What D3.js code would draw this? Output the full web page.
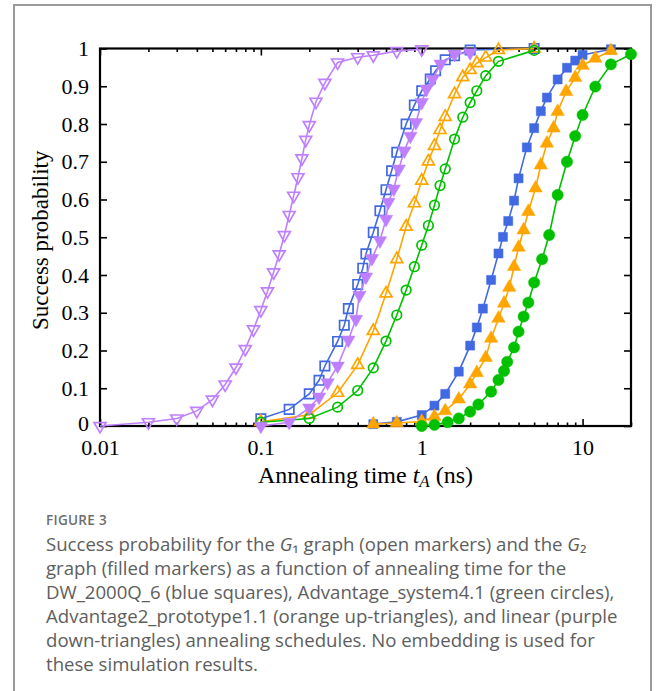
<!DOCTYPE html>
<html>
<head>
<meta charset="utf-8">
<script src="https://cdn.jsdelivr.net/npm/d3@7"></script>
<style>
  html, body { margin: 0; padding: 0; background: #fff; }
  svg { display: block; }
</style>
</head>
<body>
<svg id="chart" width="659" height="691"></svg>
<script>
// ---------- data ----------
// G1 graph (open markers)
const tBlueOpen   = [0.1,0.15,0.2,0.23,0.25,0.3,0.33,0.35,0.4,0.43,0.45,0.5,0.55,0.6,0.65,0.7,0.8,0.9,1.0,1.13,1.22,1.4,1.6,2.0,5.0];
const pBlueOpen   = [0.019,0.044,0.085,0.121,0.159,0.224,0.267,0.311,0.375,0.418,0.456,0.513,0.570,0.626,0.676,0.725,0.80,0.85,0.888,0.919,0.941,0.970,0.981,0.996,1.0];

const tGreenOpen  = [0.1,0.2,0.3,0.4,0.5,0.6,0.7,0.8,0.9,1.0,1.1,1.2,1.3,1.4,1.6,1.8,2.0,2.2,2.5,3.0,5.0];
const pGreenOpen  = [0.01,0.02,0.05,0.094,0.154,0.225,0.294,0.36,0.422,0.479,0.531,0.585,0.637,0.681,0.760,0.818,0.857,0.888,0.928,0.966,0.995];

const tOrangeOpen = [0.1,0.2,0.3,0.4,0.5,0.6,0.7,0.8,0.9,1.0,1.1,1.2,1.3,1.4,1.6,1.8,2.0,2.2,2.5,3.0,5.0];
const pOrangeOpen = [0.011,0.03,0.088,0.162,0.252,0.351,0.442,0.528,0.590,0.650,0.701,0.742,0.784,0.819,0.879,0.924,0.943,0.961,0.976,0.996,1.0];

const tPurpleOpen = [0.01,0.02,0.03,0.04,0.05,0.06,0.07,0.08,0.09,0.1,0.11,0.12,0.13,0.14,0.15,0.16,0.17,0.18,0.19,0.2,0.22,0.25,0.3,0.4,0.5,0.7,1.0];
const pPurpleOpen = [0.0,0.01,0.02,0.04,0.07,0.11,0.155,0.204,0.256,0.307,0.357,0.407,0.455,0.506,0.559,0.61,0.659,0.709,0.758,0.797,0.859,0.909,0.963,0.977,0.982,0.993,0.998];

// G2 graph (filled markers)
const tBlueFilled   = [0.5,0.7,1.0,1.2,1.4,1.7,2.0,2.2,2.4,2.7,3.0,3.2,3.45,3.75,4.0,4.5,5.0,5.5,6.0,7.0,8.0,9.0,10.0,15.0];
const pBlueFilled   = [0.005,0.011,0.029,0.054,0.085,0.144,0.213,0.261,0.311,0.387,0.457,0.501,0.543,0.597,0.656,0.738,0.789,0.834,0.870,0.918,0.949,0.968,0.983,0.998];

const tGreenFilled  = [1.0,1.2,1.45,1.7,2.0,2.25,2.7,3.0,3.25,3.4,3.75,4.0,4.3,4.6,5.0,5.6,6.2,7.0,8.0,9.0,10.0,12.0,15.0,20.0];
const pGreenFilled  = [0.0,0.003,0.01,0.02,0.038,0.057,0.091,0.122,0.146,0.170,0.208,0.250,0.29,0.327,0.380,0.442,0.506,0.612,0.700,0.768,0.824,0.899,0.958,0.985];

const tOrangeFilled = [0.5,0.7,1.0,1.2,1.4,1.7,2.0,2.2,2.5,2.7,3.0,3.25,3.5,3.75,4.0,4.3,4.6,5.1,5.5,6.0,6.6,7.0,7.9,9.0,10.0,12.0,15.0];
const pOrangeFilled = [0.005,0.008,0.012,0.025,0.04,0.071,0.111,0.141,0.181,0.232,0.285,0.325,0.367,0.422,0.473,0.519,0.568,0.630,0.691,0.749,0.789,0.833,0.886,0.923,0.955,0.974,0.994];

const tPurpleFilled = [0.1,0.15,0.2,0.23,0.26,0.3,0.35,0.39,0.41,0.45,0.49,0.55,0.6,0.62,0.67,0.72,0.78,0.85,0.92,1.0,1.07,1.17,1.31,1.6,2.0];
const pPurpleFilled = [0,0.01,0.048,0.077,0.115,0.159,0.228,0.283,0.347,0.395,0.444,0.491,0.548,0.593,0.628,0.681,0.729,0.768,0.804,0.857,0.893,0.919,0.959,0.985,0.989];

const xTickValues = [0.01, 0.1, 1, 10];
const xTickLabels = ["0.01", "0.1", "1", "10"];
const yTickValues = [0,0.1,0.2,0.3,0.4,0.5,0.6,0.7,0.8,0.9,1];
const yTickLabels = ["0","0.1","0.2","0.3","0.4","0.5","0.6","0.7","0.8","0.9","1"];

const captionTitle = "FIGURE 3";

// ---------- layout ----------
const svg = d3.select("#chart");
const L = 100, R = 631, T = 48.5, B = 426;
const x = d3.scaleLog().domain([0.01, 20]).range([L, R]);
const y = d3.scaleLinear().domain([0, 1]).range([B, T]);

const BLUE = "#4169E1", GREEN = "#00C000", ORANGE = "#FFA500", PURPLE = "#BF80FF";
const serif = "'Liberation Serif', 'Times New Roman', serif";

// outer frame
svg.append("path")
  .attr("d", "M14,700 L14,5 L651,5 L651,700")
  .attr("fill", "none").attr("stroke", "#9a9a9a").attr("stroke-width", 2);

// ---------- axes ----------
const minorX = [];
for (let e = -2; e <= 1; e++) for (let m = 2; m <= 9; m++) { const v = m * Math.pow(10, e); if (v <= 20) minorX.push(v); }

function styleAxis(g) {
  g.select(".domain").remove();
  g.selectAll(".tick line").attr("stroke", "#000").attr("stroke-width", 1.6);
}
svg.append("g").attr("transform", `translate(0,${B})`)
  .call(d3.axisBottom(x).tickValues(minorX).tickSize(-3.5).tickFormat(""))
  .call(styleAxis);
svg.append("g").attr("transform", `translate(0,${T})`)
  .call(d3.axisTop(x).tickValues(minorX).tickSize(-3.5).tickFormat(""))
  .call(styleAxis);
svg.append("g").attr("transform", `translate(0,${T})`)
  .call(d3.axisTop(x).tickValues(xTickValues).tickSize(-7).tickFormat(""))
  .call(styleAxis);
const xAxisG = svg.append("g").attr("transform", `translate(0,${B})`)
  .call(d3.axisBottom(x).tickValues(xTickValues).tickSize(-7).tickPadding(13)
    .tickFormat((d, i) => xTickLabels[i]))
  .call(styleAxis);
xAxisG.selectAll("text").attr("font-family", serif).attr("font-size", 22).attr("fill", "#000");

const yAxisG = svg.append("g").attr("transform", `translate(${L},0)`)
  .call(d3.axisLeft(y).tickValues(yTickValues).tickSize(-7).tickPadding(11)
    .tickFormat((d, i) => yTickLabels[i]))
  .call(styleAxis);
yAxisG.selectAll("text").attr("font-family", serif).attr("font-size", 22).attr("fill", "#000");
yAxisG.selectAll("text").filter((d, i) => i === 0).attr("dy", "0.2em");
svg.append("g").attr("transform", `translate(${R},0)`)
  .call(d3.axisRight(y).tickValues(yTickValues).tickSize(-7).tickFormat(""))
  .call(styleAxis);

// plot box
svg.append("rect").attr("x", L).attr("y", T).attr("width", R - L).attr("height", B - T)
  .attr("fill", "none").attr("stroke", "#000").attr("stroke-width", 2.2);

// ---------- series ----------
const line = d3.line().x(d => x(d[0])).y(d => y(d[1]));
function series(ts, ps, color, symbol, size, filled, rotate) {
  const data = ts.map((t, i) => [t, ps[i]]);
  const g = svg.append("g");
  g.append("path").datum(data).attr("d", line)
    .attr("fill", "none").attr("stroke", color).attr("stroke-width", 1.6);
  g.selectAll("path.m").data(data).enter().append("path").attr("class", "m")
    .attr("d", d3.symbol().type(symbol).size(size))
    .attr("transform", d => `translate(${x(d[0])},${y(d[1])})${rotate ? " rotate(180)" : ""}`)
    .attr("fill", filled ? color : "none")
    .attr("stroke", color).attr("stroke-width", filled ? 0.5 : 1.7);
}
series(tPurpleOpen, pPurpleOpen, PURPLE, d3.symbolTriangle, 62, false, true);
series(tBlueOpen, pBlueOpen, BLUE, d3.symbolSquare, 88, false, false);
series(tOrangeOpen, pOrangeOpen, ORANGE, d3.symbolTriangle, 62, false, false);
series(tGreenOpen, pGreenOpen, GREEN, d3.symbolCircle, 72, false, false);
series(tPurpleFilled, pPurpleFilled, PURPLE, d3.symbolTriangle, 78, true, true);
series(tBlueFilled, pBlueFilled, BLUE, d3.symbolSquare, 82, true, false);
series(tOrangeFilled, pOrangeFilled, ORANGE, d3.symbolTriangle, 78, true, false);
series(tGreenFilled, pGreenFilled, GREEN, d3.symbolCircle, 100, true, false);

// ---------- axis titles ----------
const xt = svg.append("text").attr("x", (L + R) / 2).attr("y", 483)
  .attr("text-anchor", "middle").attr("font-family", serif).attr("font-size", 24).attr("fill", "#000");
xt.append("tspan").text("Annealing time ");
xt.append("tspan").attr("font-style", "italic").text("t");
xt.append("tspan").attr("font-style", "italic").attr("font-size", 17).attr("dy", 4).text("A");
xt.append("tspan").attr("dy", -4).text(" (ns)");

svg.append("text").attr("transform", `translate(48,${(T + B) / 2 + 3}) rotate(-90)`)
  .attr("text-anchor", "middle").attr("font-family", serif).attr("font-size", 23).attr("fill", "#000")
  .text("Success probability");

// ---------- caption ----------
const sans = "'Open Sans', 'Noto Sans', sans-serif";
svg.append("text").attr("x", 46).attr("y", 525).attr("font-family", sans)
  .attr("font-size", 13.5).attr("font-weight", 600).attr("fill", "#6d6d6d").attr("letter-spacing", 0.3)
  .text(captionTitle);

const cap = svg.append("g").attr("font-family", sans).attr("font-size", 18.6).attr("fill", "#5e5e5e");
const lineH = 24, y0 = 551;
function capLine(i, parts) {
  const t = cap.append("text").attr("x", 46).attr("y", y0 + i * lineH);
  parts.forEach(p => {
    const s = t.append("tspan").text(p.s);
    if (p.it) s.attr("font-style", "italic");
  });
  return t;
}
capLine(0, [{s:"Success probability for the "},{s:"G",it:true},{s:"\u2081 graph (open markers) and the "},{s:"G",it:true},{s:"\u2082"}]);
capLine(1, [{s:"graph (filled markers) as a function of annealing time for the"}]);
capLine(2, [{s:"DW_2000Q_6 (blue squares), Advantage_system4.1 (green circles),"}]);
capLine(3, [{s:"Advantage2_prototype1.1 (orange up-triangles), and linear (purple"}]);
capLine(4, [{s:"down-triangles) annealing schedules. No embedding is used for"}]);
capLine(5, [{s:"these simulation results."}]);
</script>
</body>
</html>
